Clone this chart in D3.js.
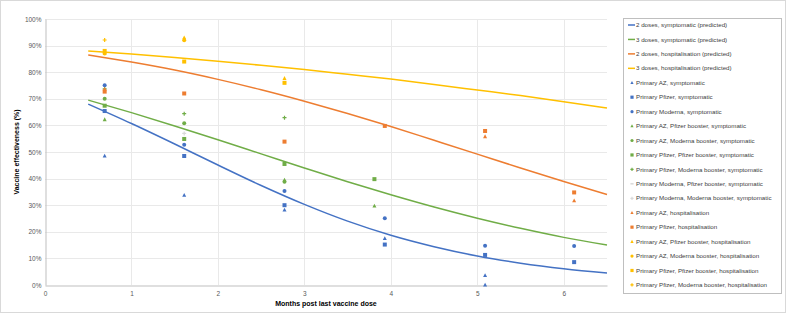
<!DOCTYPE html>
<html><head><meta charset="utf-8">
<script src="https://cdn.jsdelivr.net/npm/d3@7"></script>
<style>body{margin:0;background:#fff;} text{font-family:"Liberation Sans",Arial,sans-serif;}</style>
</head><body><svg id="c" width="787" height="314"></svg>
<script>
// Predicted curves at months 0.5..6.5
const curveMonths = [0.5,1.0,1.5,2.0,2.5,3.0,3.5,4.0,4.5,5.0,5.5,6.0,6.5];
const twoDosesSymptomatic   = [68.0,60.7,53.0,45.1,37.4,30.3,24.0,18.7,14.4,10.9,8.2,6.1,4.5];
const threeDosesSymptomatic = [69.5,64.8,59.8,54.6,49.3,44.0,38.8,33.9,29.3,25.1,21.3,17.9,15.0];
const twoDosesHosp          = [86.5,83.8,80.8,77.3,73.4,69.1,64.5,59.6,54.4,49.2,44.0,38.9,34.0];
const threeDosesHosp        = [88.0,86.8,85.5,84.1,82.6,81.0,79.2,77.4,75.4,73.3,71.2,68.9,66.5];

const lineNames = ["2 doses, symptomatic (predicted)","3 doses, symptomatic (predicted)","2 doses, hospitalisation (predicted)","3 doses, hospitalisation (predicted)"];
const lineColors = ["#4472C4","#70AD47","#ED7D31","#FFC000"];

// Observed estimates: [months, VE%]
const pointNames = [
 "Primary AZ, symptomatic","Primary Pfizer, symptomatic","Primary Moderna, symptomatic",
 "Primary AZ, Pfizer booster, symptomatic","Primary AZ, Moderna booster, symptomatic",
 "Primary Pfizer, Pfizer booster, symptomatic","Primary Pfizer, Moderna booster, symptomatic",
 "Primary Moderna, Pfizer booster, symptomatic","Primary Moderna, Moderna booster, symptomatic",
 "Primary AZ, hospitalisation","Primary Pfizer, hospitalisation",
 "Primary AZ, Pfizer booster, hospitalisation","Primary AZ, Moderna booster, hospitalisation",
 "Primary Pfizer, Pfizer booster, hospitalisation","Primary Pfizer, Moderna booster, hospitalisation"];
const pointColors = ["#4472C4","#4472C4","#4472C4","#70AD47","#70AD47","#70AD47","#70AD47","#D0D0D0","#D9D9D9","#ED7D31","#ED7D31","#FFC000","#FFC000","#FFC000","#FFC000"];
const pointShapes = ["triangle","square","circle","triangle","circle","square","cross","dash","cross","triangle","square","triangle","circle","square","cross"];
const azSymp = [[0.69,48.5],[1.61,33.8],[2.77,28.2],[3.93,17.5],[5.09,3.6],[5.09,0]];
const pfSymp = [[0.69,65.4],[1.61,48.5],[2.77,30.0],[3.93,15.2],[5.09,11.3],[6.12,8.6]];
const moSymp = [[0.69,75.1],[1.61,52.7],[2.77,35.3],[3.93,25.1],[5.09,14.8],[6.12,14.7]];
const azPfSymp = [[0.69,62.2],[2.77,39.5],[3.81,29.7]];
const azMoSymp = [[0.69,70.0],[1.61,60.8],[2.77,38.8]];
const pfPfSymp = [[0.69,67.4],[1.61,54.9],[2.77,45.5],[3.81,39.8]];
const pfMoSymp = [[0.69,73.7],[1.61,64.4],[2.77,62.9]];
const moPfSymp = [];
const moMoSymp = [[1.61,57.0]];
const azHosp = [[0.69,73.6],[5.09,55.8],[6.12,31.7]];
const pfHosp = [[0.69,72.7],[1.61,72.0],[2.77,53.9],[3.93,59.8],[5.09,57.9],[6.12,34.8]];
const azPfHosp = [[0.69,87.3],[1.61,93.0],[2.77,77.7]];
const azMoHosp = [[0.69,87.0],[1.61,92.0]];
const pfPfHosp = [[0.69,88.0],[1.61,84.0],[2.77,76.0]];
const pfMoHosp = [[0.69,92.1]];
const pointSeries = [azSymp,pfSymp,moSymp,azPfSymp,azMoSymp,pfPfSymp,pfMoSymp,moPfSymp,moMoSymp,azHosp,pfHosp,azPfHosp,azMoHosp,pfPfHosp,pfMoHosp];

const xTicks = [0,1,2,3,4,5,6];
const yTicks = [0,10,20,30,40,50,60,70,80,90,100];

const svg = d3.select("#c");
svg.append("rect").attr("x",0.5).attr("y",0.5).attr("width",785).attr("height",312).attr("fill","#fff").attr("stroke","#D9D9D9");

const x = d3.scaleLinear().domain([0,6.5]).range([45,607]);
const y = d3.scaleLinear().domain([0,100]).range([285,19]);

// gridlines
svg.append("g").selectAll("line").data(yTicks.slice(1)).join("line")
  .attr("x1",x(0)).attr("x2",x(6.5)).attr("y1",d=>Math.round(y(d))+0.5).attr("y2",d=>Math.round(y(d))+0.5)
  .attr("stroke","#E9E9E9").attr("stroke-width",1);
svg.append("g").selectAll("line").data(xTicks.slice(1)).join("line")
  .attr("x1",d=>Math.round(x(d))+0.5).attr("x2",d=>Math.round(x(d))+0.5).attr("y1",y(0)).attr("y2",y(100))
  .attr("stroke","#E9E9E9").attr("stroke-width",1);

// axes
const xAxis = svg.append("g").attr("transform",`translate(0,${Math.round(y(0))+0.5})`)
  .call(d3.axisBottom(x).tickValues(xTicks).tickSize(0).tickPadding(6).tickFormat(d3.format("d")));
const yAxis = svg.append("g").attr("transform",`translate(${Math.round(x(0))+0.5},0)`)
  .call(d3.axisLeft(y).tickValues(yTicks).tickSize(0).tickPadding(4).tickFormat(d=>d+"%"));
[xAxis,yAxis].forEach(a=>{
  a.select(".domain").attr("stroke","#BFBFBF").attr("stroke-width",1);
  a.selectAll("text").attr("fill","#595959").attr("font-size","6.5px");
});

svg.append("text").attr("x",326).attr("y",306).attr("text-anchor","middle")
  .attr("font-size","7px").attr("font-weight","bold").attr("fill","#000").text("Months post last vaccine dose");
svg.append("text").attr("transform",`translate(19,${y(50)}) rotate(-90)`).attr("text-anchor","middle")
  .attr("font-size","7px").attr("font-weight","bold").attr("fill","#000").text("Vaccine effectiveness (%)");

// lines
const lineData = [twoDosesSymptomatic,threeDosesSymptomatic,twoDosesHosp,threeDosesHosp];
const lineGen = d3.line().x((d,i)=>x(curveMonths[i])).y(d=>y(d)).curve(d3.curveMonotoneX);
lineData.forEach((vals,k)=>{
  svg.append("path").datum(vals).attr("d",lineGen).attr("fill","none")
    .attr("stroke",lineColors[k]).attr("stroke-width",1.5);
});

// markers
function marker(g, shape, color, cx, cy, s){
  s = s||2;
  if(shape==="triangle") g.append("path").attr("d",`M${cx},${cy-s*1.1}L${cx+s},${cy+s*0.8}L${cx-s},${cy+s*0.8}Z`).attr("fill",color);
  else if(shape==="square") g.append("rect").attr("x",cx-s).attr("y",cy-s).attr("width",2*s).attr("height",2*s).attr("fill",color);
  else if(shape==="circle") g.append("circle").attr("cx",cx).attr("cy",cy).attr("r",s).attr("fill",color);
  else if(shape==="cross") g.append("path").attr("d",`M${cx-s},${cy}H${cx+s}M${cx},${cy-s}V${cy+s}`).attr("stroke",color).attr("stroke-width",1.2);
  else if(shape==="dash") g.append("path").attr("d",`M${cx-s},${cy}H${cx+s}`).attr("stroke",color).attr("stroke-width",1.2);
}
const mg = svg.append("g");
pointSeries.forEach((pts,k)=>{
  pts.forEach(p=>marker(mg, pointShapes[k], pointColors[k], x(p[0]), y(p[1]), 2));
});

// legend
const lg = svg.append("g");
lg.append("rect").attr("x",623.5).attr("y",18.5).attr("width",158).attr("height",275).attr("fill","#fff").attr("stroke","#BFBFBF");
const ly0 = 25, ldy = 14.44;
lineNames.forEach((n,i)=>{
  const yy = ly0 + i*ldy;
  lg.append("line").attr("x1",628).attr("x2",635).attr("y1",yy).attr("y2",yy).attr("stroke",lineColors[i]).attr("stroke-width",1.5);
  lg.append("text").attr("x",636).attr("y",yy).attr("dy","0.35em").attr("font-size","6.2px").attr("fill","#404040").text(n);
});
pointNames.forEach((n,i)=>{
  const yy = ly0 + (i+4)*ldy;
  marker(lg, pointShapes[i], pointColors[i], 632, yy, 1.6);
  lg.append("text").attr("x",636).attr("y",yy).attr("dy","0.35em").attr("font-size","6.2px").attr("fill","#404040").text(n);
});
</script></body></html>
